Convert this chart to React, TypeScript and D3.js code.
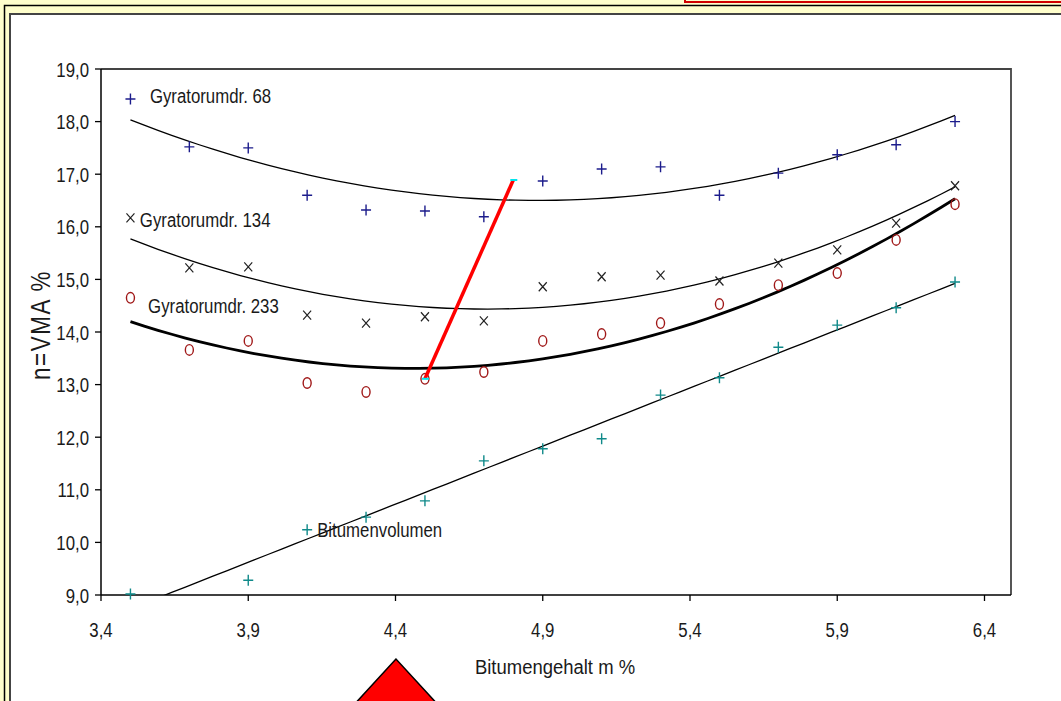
import React from 'react';
import * as d3 from 'd3';

// bitumen content (m %) for each specimen
const binder = [3.5, 3.7, 3.9, 4.1, 4.3, 4.5, 4.7, 4.9, 5.1, 5.3, 5.5, 5.7, 5.9, 6.1, 6.3];

// VMA %
const gyr68 = [18.43, 17.52, 17.5, 16.6, 16.32, 16.3, 16.19, 16.87, 17.1, 17.14, 16.6, 17.02, 17.37, 17.56, 18.0];
const gyr134 = [16.17, 15.22, 15.24, 14.32, 14.17, 14.29, 14.21, 14.86, 15.05, 15.08, 14.97, 15.31, 15.56, 16.07, 16.78];
const gyr233 = [14.65, 13.66, 13.83, 13.03, 12.86, 13.11, 13.24, 13.83, 13.96, 14.17, 14.53, 14.89, 15.12, 15.75, 16.43];
// null = below the axis, not shown
const bitVol = [9.02, null, 9.28, 10.24, 10.48, 10.79, 11.55, 11.78, 11.97, 12.8, 13.13, 13.71, 14.13, 14.46, 14.95];

const xTicks = [3.4, 3.9, 4.4, 4.9, 5.4, 5.9, 6.4];
const yTicks = [9, 10, 11, 12, 13, 14, 15, 16, 17, 18, 19];

// red construction line (from min of 233 up to 68 curve)
const redLine = [[4.5, 13.11], [4.8, 16.89]];

const labels = [
  { text: 'Gyratorumdr. 68', x: 3.566, y: 18.354 },
  { text: 'Gyratorumdr. 134', x: 3.532, y: 16.0 },
  { text: 'Gyratorumdr. 233', x: 3.56, y: 14.36 },
  { text: 'Bitumenvolumen', x: 4.134, y: 10.1 },
];

const W = 1061, H = 701;
const FONT = '"Liberation Sans", Arial, sans-serif';

// least squares polynomial (degree 1 or 2)
function polyFit(xs, ys, deg) {
  const pts = xs.map((x, i) => [x, ys[i]]).filter(p => p[1] != null);
  const n = deg + 1;
  const A = [];
  for (let r = 0; r < n; r++) {
    A.push([]);
    for (let c = 0; c < n; c++) A[r].push(d3.sum(pts, p => Math.pow(p[0], r + c)));
    A[r].push(d3.sum(pts, p => p[1] * Math.pow(p[0], r)));
  }
  for (let i = 0; i < n; i++) {
    let m = i;
    for (let k = i + 1; k < n; k++) if (Math.abs(A[k][i]) > Math.abs(A[m][i])) m = k;
    [A[i], A[m]] = [A[m], A[i]];
    for (let k = i + 1; k < n; k++) {
      const f = A[k][i] / A[i][i];
      for (let j = i; j <= n; j++) A[k][j] -= f * A[i][j];
    }
  }
  const c = new Array(n).fill(0);
  for (let i = n - 1; i >= 0; i--) {
    let s = A[i][n];
    for (let j = i + 1; j < n; j++) s -= A[i][j] * c[j];
    c[i] = s / A[i][i];
  }
  return x => c.reduce((acc, ci, i) => acc + ci * Math.pow(x, i), 0);
}

const Txt = ({ x, y, size = 21, sx = 0.8, anchor = 'start', rotate = 0, spacing = 0, children }) => (
  <text
    transform={`translate(${x},${y}) rotate(${rotate}) scale(${sx},1)`}
    textAnchor={anchor}
    fontFamily={FONT}
    fontSize={size}
    letterSpacing={spacing}
    fill="#1a1a1a"
  >
    {children}
  </text>
);

export default function App() {
  const x = d3.scaleLinear().domain([3.4, 6.49]).range([101, 1011]);
  const y = d3.scaleLinear().domain([9, 19]).range([595, 69]);

  const xs = d3.range(0, 61).map(i => 3.5 + (i * 2.8) / 60);
  const curve = f => d3.line().x(d => x(d)).y(d => y(f(d)))(xs);

  const fits = [
    { f: polyFit(binder, gyr68, 2), w: 1.3 },
    { f: polyFit(binder, gyr134, 2), w: 1.3 },
    { f: polyFit(binder, gyr233, 2), w: 2.8 },
    { f: polyFit(binder, bitVol, 1), w: 1.3 },
  ];

  const plus = 'M-5,0H5M0,-5.5V5.5';
  const cross = 'M-4,-4.5L4,4.5M-4,4.5L4,-4.5';

  return (
    <div style={{ position: 'absolute', left: 0, top: 0, width: W, height: H, overflow: 'hidden' }}>
      <svg width={W} height={H} style={{ display: 'block' }}>
        <defs>
          <clipPath id="plot">
            <rect x={x(3.4)} y={y(19)} width={x(6.49) - x(3.4)} height={y(9) - y(19)} />
          </clipPath>
        </defs>
        {/* page frame */}
        <rect x={0} y={0} width={W} height={H} fill="#ffffcc" />
        <rect x={685} y={-6} width={400} height={8} fill="#ffffcc" stroke="#d00000" strokeWidth={2} />
        <rect x={4.5} y={5.5} width={1200} height={900} fill="none" stroke="#000" strokeWidth={1.5} />
        <rect x={10} y={14} width={1200} height={900} fill="#fff" stroke="#444" strokeWidth={2} />

        {/* plot frame */}
        <path d={`M${x(3.4)},${y(19)}H${x(6.49)}V${y(9)}`} fill="none" stroke="#444" strokeWidth={1.8} />
        <line x1={x(3.4)} x2={x(3.4)} y1={y(19)} y2={y(9)} stroke="#000" strokeWidth={1.5} />
        <line x1={x(3.4)} x2={x(6.49)} y1={y(9)} y2={y(9)} stroke="#000" strokeWidth={1.5} />

        {yTicks.map(t => (
          <g key={'y' + t}>
            <line x1={x(3.4) - 6} x2={x(3.4)} y1={y(t)} y2={y(t)} stroke="#000" strokeWidth={1.3} />
            <Txt x={x(3.4) - 12} y={y(t) + 7.5} anchor="end">{d3.format('.1f')(t).replace('.', ',')}</Txt>
          </g>
        ))}
        {xTicks.map(t => (
          <g key={'x' + t}>
            <line x1={x(t)} x2={x(t)} y1={y(9)} y2={y(9) + 6} stroke="#000" strokeWidth={1.3} />
            <Txt x={x(t)} y={y(9) + 42} anchor="middle">{d3.format('.1f')(t).replace('.', ',')}</Txt>
          </g>
        ))}

        <Txt x={50} y={325} size={28} sx={0.8} rotate={-90} spacing={2} anchor="middle">n=VMA %</Txt>
        <Txt x={555} y={674} size={21} sx={0.88} anchor="middle">Bitumengehalt m %</Txt>

        {/* trend curves */}
        <g clipPath="url(#plot)">
          {fits.map((c, i) => (
            <path key={i} d={curve(c.f)} fill="none" stroke="#000" strokeWidth={c.w} />
          ))}
        </g>

        {/* markers */}
        {binder.map((b, i) => (
          <g key={'m' + i}>
            <path transform={`translate(${x(b)},${y(gyr68[i])})`} d={plus} stroke="#1c1c8c" strokeWidth={1.4} />
            <path transform={`translate(${x(b)},${y(gyr134[i])})`} d={cross} stroke="#222" strokeWidth={1.2} />
            <ellipse cx={x(b)} cy={y(gyr233[i])} rx={4} ry={5.3} fill="none" stroke="#a01818" strokeWidth={1.4} />
            {bitVol[i] != null && (
              <path transform={`translate(${x(b)},${y(bitVol[i])})`} d={plus} stroke="#108a8a" strokeWidth={1.4} />
            )}
          </g>
        ))}

        {/* red construction line */}
        <line
          x1={x(redLine[0][0])} y1={y(redLine[0][1])}
          x2={x(redLine[1][0])} y2={y(redLine[1][1])}
          stroke="#ff0000" strokeWidth={3.5}
        />
        {redLine.map((p, i) => (
          <line key={'c' + i} x1={x(p[0]) - 3} x2={x(p[0]) + 4} y1={y(p[1])} y2={y(p[1])} stroke="#00e5ee" strokeWidth={2} />
        ))}

        {labels.map(l => (
          <Txt key={l.text} x={x(l.x)} y={y(l.y)}>{l.text}</Txt>
        ))}

        {/* red arrow below axis */}
        <polygon points="396,659 340,720 452,720" fill="#ff0000" stroke="#000" strokeWidth={1.5} />
      </svg>
    </div>
  );
}
